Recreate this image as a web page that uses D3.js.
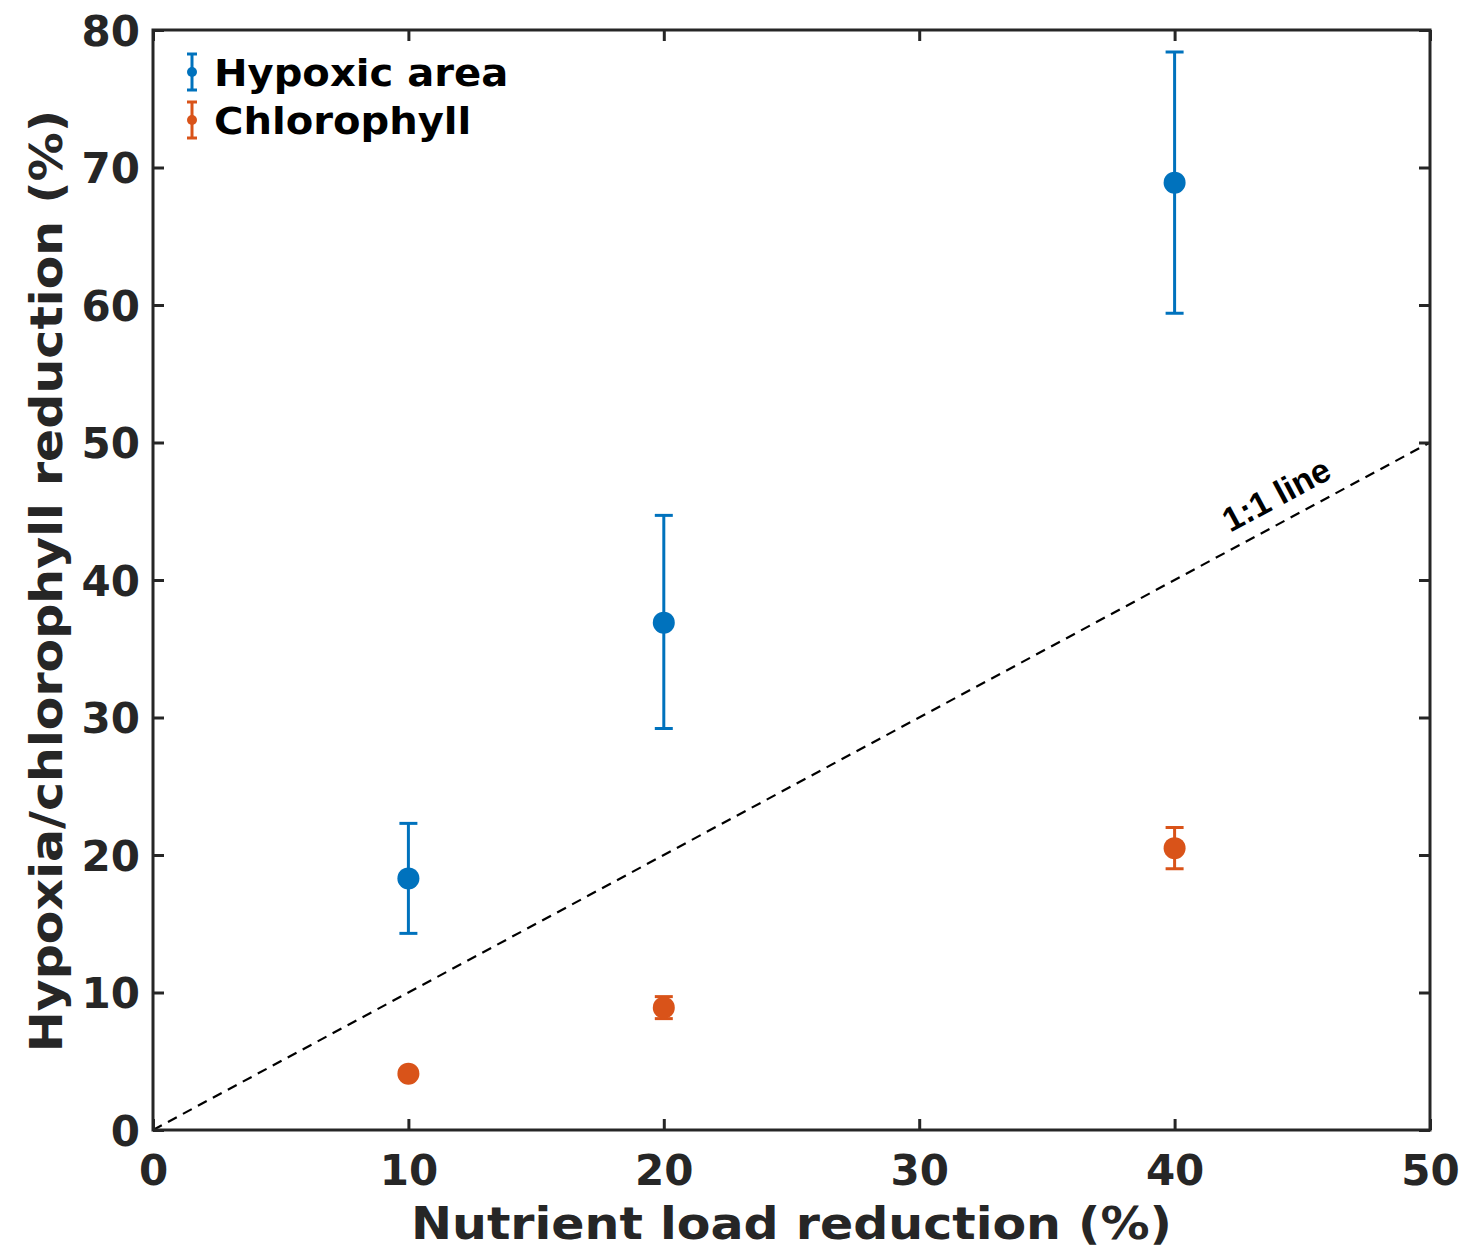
<!DOCTYPE html>
<html>
<head>
<meta charset="utf-8">
<script src="https://cdn.jsdelivr.net/npm/d3@7"></script>
<style>
  body { margin: 0; background: #fff; }
  text { font-family: "DejaVu Sans", sans-serif; font-weight: bold; }
</style>
</head>
<body>
<script>
// values
var loadReduction = [10, 20, 40];
var hypoxiaMean = [18.3, 36.9, 68.9];
var hypoxiaLow = [14.3, 29.2, 59.4];
var hypoxiaHigh = [22.3, 44.7, 78.4];
var chlMean = [4.1, 8.9, 20.5];
var chlLow = [3.9, 8.1, 19.0];
var chlHigh = [4.3, 9.7, 22.0];
var xTicks = [0, 10, 20, 30, 40, 50];
var yTicks = [0, 10, 20, 30, 40, 50, 60, 70, 80];

var svgWidth = 1471;
var svgHeight = 1247;
var margin = { top: 30, right: 41, bottom: 117, left: 153 };
var width = svgWidth - margin.left - margin.right;
var height = svgHeight - margin.top - margin.bottom;

var blue = "#0072BD";
var orange = "#D95319";
var ink = "#262626";

var svg = d3.select("body")
  .append("svg")
  .attr("width", svgWidth)
  .attr("height", svgHeight);

var g = svg.append("g")
  .attr("transform", `translate(${margin.left}, ${margin.top})`);

var xScale = d3.scaleLinear().domain([0, 50]).range([0, width]);
var yScale = d3.scaleLinear().domain([0, 80]).range([height, 0]);

// 1:1 line
g.append("line")
  .attr("x1", xScale(0)).attr("y1", yScale(0))
  .attr("x2", xScale(50)).attr("y2", yScale(50))
  .attr("stroke", "#000")
  .attr("stroke-width", 2.2)
  .attr("stroke-dasharray", "10,7");

var angle = Math.atan2(yScale(50) - yScale(0), xScale(50) - xScale(0)) * 180 / Math.PI;
g.append("text")
  .attr("transform", `translate(${xScale(44.2)}, ${yScale(45.45)}) rotate(${angle})`)
  .attr("text-anchor", "middle")
  .style("font-family", "'Liberation Sans', Arial, sans-serif")
  .style("font-size", "34px")
  .attr("fill", "#000")
  .text("1:1 line");

// axes
function tickLabels(sel) {
  sel.selectAll("text")
    .style("font-size", "42px")
    .attr("fill", ink);
}

var xAxis = g.append("g")
  .attr("transform", `translate(0, ${height})`)
  .call(d3.axisBottom(xScale).tickValues(xTicks).tickSizeInner(-11).tickSizeOuter(0).tickPadding(25));
xAxis.call(tickLabels);

g.append("g")
  .call(d3.axisTop(xScale).tickValues(xTicks).tickSizeInner(-11).tickSizeOuter(0).tickFormat(""));

var yAxis = g.append("g")
  .call(d3.axisLeft(yScale).tickValues(yTicks).tickSizeInner(-11).tickSizeOuter(0).tickPadding(13));
yAxis.call(tickLabels);
yAxis.selectAll("text").attr("dy", "0.36em");

g.append("g")
  .attr("transform", `translate(${width}, 0)`)
  .call(d3.axisRight(yScale).tickValues(yTicks).tickSizeInner(-11).tickSizeOuter(0).tickFormat(""));

g.selectAll(".domain").remove();
g.selectAll(".tick line").attr("stroke", ink).attr("stroke-width", 3);

g.append("rect")
  .attr("width", width)
  .attr("height", height)
  .attr("fill", "none")
  .attr("stroke", ink)
  .attr("stroke-width", 3);

// series with error bars
function drawSeries(color, mean, low, high) {
  var s = g.append("g");
  loadReduction.forEach(function (x, i) {
    var cx = xScale(x);
    s.append("line")
      .attr("x1", cx).attr("x2", cx)
      .attr("y1", yScale(low[i])).attr("y2", yScale(high[i]))
      .attr("stroke", color).attr("stroke-width", 3);
    [low[i], high[i]].forEach(function (v) {
      s.append("line")
        .attr("x1", cx - 9).attr("x2", cx + 9)
        .attr("y1", yScale(v)).attr("y2", yScale(v))
        .attr("stroke", color).attr("stroke-width", 3);
    });
    s.append("circle")
      .attr("cx", cx).attr("cy", yScale(mean[i]))
      .attr("r", 11)
      .attr("fill", color);
  });
}
drawSeries(blue, hypoxiaMean, hypoxiaLow, hypoxiaHigh);
drawSeries(orange, chlMean, chlLow, chlHigh);

// legend
var legendItems = [
  { name: "Hypoxic area", color: blue },
  { name: "Chlorophyll", color: orange }
];
var legend = svg.append("g").attr("transform", "translate(192, 72)");
legendItems.forEach(function (d, i) {
  var row = legend.append("g").attr("transform", `translate(0, ${i * 48})`);
  row.append("line").attr("x1", 0).attr("x2", 0).attr("y1", -18).attr("y2", 18)
    .attr("stroke", d.color).attr("stroke-width", 3);
  row.append("line").attr("x1", -5).attr("x2", 5).attr("y1", -18).attr("y2", -18)
    .attr("stroke", d.color).attr("stroke-width", 3);
  row.append("line").attr("x1", -5).attr("x2", 5).attr("y1", 18).attr("y2", 18)
    .attr("stroke", d.color).attr("stroke-width", 3);
  row.append("circle").attr("r", 5).attr("fill", d.color);
  row.append("text")
    .attr("transform", "translate(22, 0) scale(1.055, 1)")
    .attr("dy", "0.36em")
    .style("font-size", "38px")
    .attr("fill", "#000")
    .text(d.name);
});

// axis titles
svg.append("text")
  .attr("transform", `translate(${margin.left + width / 2}, 1239) scale(1.09, 1)`)
  .attr("text-anchor", "middle")
  .style("font-size", "45px")
  .attr("fill", ink)
  .text("Nutrient load reduction (%)");

svg.append("text")
  .attr("transform", "translate(62, 581) rotate(-90) scale(1.09, 1)")
  .attr("text-anchor", "middle")
  .style("font-size", "45px")
  .attr("fill", ink)
  .text("Hypoxia/chlorophyll reduction (%)");
</script>
</body>
</html>
